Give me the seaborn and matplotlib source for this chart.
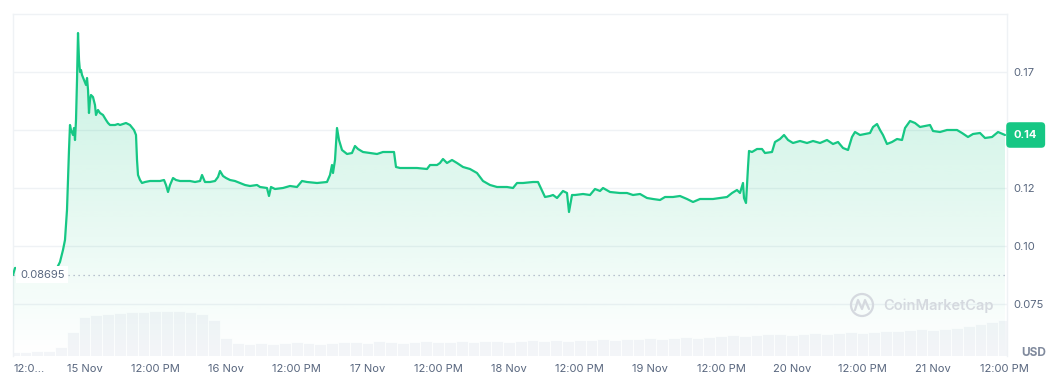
import numpy as np
import pandas as pd
import matplotlib
matplotlib.use("Agg")
import matplotlib.pyplot as plt
import matplotlib.transforms as mtransforms
from matplotlib.patches import Ellipse
from matplotlib.lines import Line2D
import seaborn as sns

# ---------------- data ----------------
# hours since 14 Nov 00:00
hours = [11.87, 12.21, 19.33, 19.84, 20.35, 20.69, 21.03, 21.20, 21.37, 21.54,
         21.71, 22.05, 22.22, 22.39, 22.56, 22.73, 22.90, 23.07, 23.24, 23.41,
         23.58, 23.92, 24.26, 24.43, 24.60, 24.76, 24.93, 25.10, 25.44, 25.78,
         25.95, 26.29, 26.63, 27.14, 27.65, 27.99, 28.33, 29.18, 29.68, 30.02,
         30.53, 31.04, 31.72, 32.40, 32.74, 32.91, 33.08, 33.42, 33.76, 34.27,
         35.11, 36.81, 37.49, 37.83, 38.17, 38.51, 39.02, 39.52, 40.20, 41.90,
         42.75, 43.60, 43.94, 44.44, 45.29, 46.14, 46.65, 46.99, 47.50, 48.01,
         48.69, 49.53, 50.38, 51.23, 52.08, 53.27, 53.78, 54.96, 55.30, 55.64,
         56.32, 57.68, 58.86, 60.05, 60.90, 61.75, 63.45, 65.14, 65.65, 65.99,
         66.16, 66.50, 66.84, 67.18, 67.69, 68.54, 69.38, 69.89, 70.40, 71.25,
         72.44, 73.63, 74.64, 75.83, 76.51, 76.85, 77.53, 79.22, 80.41, 82.11,
         82.62, 83.81, 84.31, 84.82, 85.50, 86.35, 87.20, 88.22, 89.40, 90.59,
         91.61, 92.80, 93.99, 95.68, 96.70, 97.38, 98.40, 100.09, 100.94, 102.13,
         102.98, 103.49, 104.17, 105.18, 105.86, 106.20, 106.71, 107.22, 108.58, 109.76,
         110.61, 111.46, 111.97, 113.16, 114.85, 116.04, 117.06, 118.25, 119.43, 120.45,
         121.64, 122.49, 123.84, 125.03, 126.22, 127.24, 128.42, 130.63, 131.82, 133.01,
         133.86, 134.70, 135.21, 135.72, 135.89, 136.23, 136.57, 136.74, 137.25, 138.10,
         138.94, 139.45, 140.64, 141.15, 142.00, 142.68, 143.36, 144.20, 145.39, 146.58,
         147.60, 148.79, 149.97, 150.99, 151.84, 152.69, 153.54, 154.21, 154.72, 155.57,
         157.27, 157.78, 158.46, 158.97, 159.47, 160.15, 161.00, 161.85, 162.70, 163.21,
         164.06, 164.90, 165.75, 167.45, 167.96, 169.14, 170.33, 172.03, 172.88, 173.89,
         174.74, 175.93, 176.78, 177.97, 178.99, 180.17]
prices = [0.0868, 0.0896, 0.0896, 0.0920, 0.0968, 0.1008, 0.1128, 0.1248, 0.1368, 0.1468,
          0.1448, 0.1428, 0.1456, 0.1408, 0.1488, 0.1648, 0.1836, 0.1728, 0.1680, 0.1688,
          0.1668, 0.1648, 0.1628, 0.1656, 0.1608, 0.1516, 0.1568, 0.1588, 0.1580, 0.1548,
          0.1508, 0.1528, 0.1516, 0.1508, 0.1488, 0.1476, 0.1468, 0.1468, 0.1472, 0.1468,
          0.1472, 0.1476, 0.1468, 0.1448, 0.1428, 0.1328, 0.1268, 0.1248, 0.1236, 0.1240,
          0.1244, 0.1244, 0.1248, 0.1228, 0.1200, 0.1228, 0.1256, 0.1248, 0.1244, 0.1244,
          0.1240, 0.1244, 0.1268, 0.1240, 0.1240, 0.1244, 0.1260, 0.1284, 0.1264, 0.1256,
          0.1248, 0.1244, 0.1236, 0.1228, 0.1224, 0.1228, 0.1220, 0.1216, 0.1184, 0.1220,
          0.1212, 0.1216, 0.1224, 0.1220, 0.1244, 0.1240, 0.1236, 0.1240, 0.1268, 0.1308,
          0.1276, 0.1328, 0.1456, 0.1408, 0.1368, 0.1352, 0.1356, 0.1384, 0.1372, 0.1360,
          0.1356, 0.1352, 0.1360, 0.1360, 0.1360, 0.1300, 0.1296, 0.1296, 0.1296, 0.1292,
          0.1308, 0.1308, 0.1316, 0.1332, 0.1316, 0.1328, 0.1316, 0.1300, 0.1292, 0.1276,
          0.1244, 0.1228, 0.1220, 0.1220, 0.1216, 0.1236, 0.1236, 0.1240, 0.1240, 0.1180,
          0.1184, 0.1188, 0.1176, 0.1204, 0.1196, 0.1120, 0.1188, 0.1188, 0.1192, 0.1188,
          0.1212, 0.1204, 0.1216, 0.1200, 0.1196, 0.1196, 0.1188, 0.1192, 0.1176, 0.1172,
          0.1168, 0.1180, 0.1180, 0.1184, 0.1172, 0.1160, 0.1172, 0.1172, 0.1176, 0.1180,
          0.1196, 0.1208, 0.1196, 0.1236, 0.1176, 0.1156, 0.1300, 0.1364, 0.1360, 0.1372,
          0.1372, 0.1356, 0.1360, 0.1400, 0.1412, 0.1428, 0.1408, 0.1396, 0.1404, 0.1396,
          0.1404, 0.1396, 0.1408, 0.1392, 0.1400, 0.1376, 0.1368, 0.1420, 0.1440, 0.1428,
          0.1436, 0.1460, 0.1472, 0.1448, 0.1428, 0.1392, 0.1400, 0.1412, 0.1408, 0.1456,
          0.1484, 0.1476, 0.1460, 0.1468, 0.1444, 0.1440, 0.1448, 0.1448, 0.1436, 0.1420,
          0.1432, 0.1436, 0.1416, 0.1420, 0.1440, 0.1428]

# volume, 2-hour bins (hours since 14 Nov 00:00), arbitrary units
vol_hours = list(range(12, 181, 2))
volumes = [4, 4, 5, 5,
           9, 24, 39, 41, 42, 43, 44, 44, 45, 45, 45, 44, 42, 36, 18, 13,
           12, 13, 12, 13, 14, 13, 12, 13, 14, 14, 13, 15, 14, 13, 14, 15, 14, 14, 15, 14,
           15, 15, 14, 15, 16,
           15, 16, 15, 16, 16, 17, 16, 17, 17, 18, 17, 18, 19, 18, 19, 20, 21, 20, 21, 22,
           22, 21, 22, 23, 22, 23, 24, 23, 24, 25, 25, 26, 27, 26, 27, 28, 30, 32, 34, 36]

y_ticks = [0.0752, 0.0984, 0.1216, 0.1448, 0.1680]
y_tick_labels = ["0.075", "0.10", "0.12", "0.14", "0.17"]
x_tick_hours = [12, 24, 36, 48, 60, 72, 84, 96, 108, 120, 132, 144, 156, 168, 180]
x_tick_labels = ["12:0...", "15 Nov", "12:00 PM", "16 Nov", "12:00 PM", "17 Nov",
                 "12:00 PM", "18 Nov", "12:00 PM", "19 Nov", "12:00 PM", "20 Nov",
                 "12:00 PM", "21 Nov", "12:00 PM"]
open_price = 0.08695
open_label = "0.08695"
last_price = 0.1428
last_label = "0.14"

# ---------------- style ----------------
sns.set_style("white")
plt.rcParams["font.family"] = ["Inter", "DejaVu Sans"]

GREEN = "#16c784"
LABEL = "#58667e"
GRID = "#eff2f5"

base = pd.Timestamp("2023-11-14")
def to_time(h):
    return base + pd.to_timedelta(np.asarray(h, dtype=float), unit="h")

times = to_time(hours)
vtimes = to_time(vol_hours)
tick_times = to_time(x_tick_hours)
x_min, x_max = to_time([11.87, 180.51])

W, H = 1064, 390
fig = plt.figure(figsize=(W / 100, H / 100), dpi=100)
rect = [13 / W, (H - 356) / H, (1007 - 13) / W, 342 / H]
ax_vol = fig.add_axes(rect)
ax = ax_vol.twinx()

# volume
ax_vol.bar(vtimes, volumes, width=2 / 24, color="#f3f5f8", edgecolor="white",
           linewidth=0.6, zorder=1)
ax_vol.set_ylim(0, 342)
ax_vol.set_yticks([])
for s in ["top", "left", "right"]:
    ax_vol.spines[s].set_color(GRID)
    ax_vol.spines[s].set_linewidth(1)
ax_vol.spines["bottom"].set_visible(False)

# price
y_lo, y_hi = 0.0544, 0.1912
sns.lineplot(x=times, y=prices, ax=ax, color=GREEN, linewidth=1.6, zorder=4)
poly = ax.fill_between(times, prices, y_lo, color="none", linewidth=0)
grad = np.zeros((256, 1, 4))
grad[..., 0] = 22 / 255
grad[..., 1] = 199 / 255
grad[..., 2] = 132 / 255
grad[:, 0, 3] = np.linspace(0.26, 0.0, 256)
im = ax.imshow(grad, extent=[0, 1, 0, 1], transform=ax.transAxes, aspect="auto",
               zorder=2, interpolation="bilinear")
im.set_clip_path(poly.get_paths()[0], transform=ax.transData)

ax.axhline(open_price, color="#a6b0c3", linestyle=(0, (1, 3)), linewidth=0.9, zorder=3)
blend = mtransforms.blended_transform_factory(ax.transAxes, ax.transData)
ax.text(7 / 994, open_price, open_label, transform=blend, ha="left", va="center",
        fontsize=8, color=LABEL, zorder=6,
        bbox=dict(boxstyle="square,pad=0.32", fc="white", ec="none"))

ax.set_ylim(y_lo, y_hi)
# the "0.14" tick label sits under the current-price tag, as in the reference
shown_labels = ["" if lab == last_label else lab for lab in y_tick_labels]
ax.set_yticks(y_ticks, shown_labels)
ax.yaxis.grid(True, color=GRID, linewidth=1)
ax.set_axisbelow(True)
ax.tick_params(axis="y", length=0, pad=4.5, labelsize=8, labelcolor=LABEL)
for s in ax.spines.values():
    s.set_visible(False)
ax.set_xlabel("")
ax.set_ylabel("")

ax_vol.set_xlim(x_min, x_max)
ax_vol.set_xticks(tick_times, x_tick_labels)
ax_vol.tick_params(axis="x", length=0, pad=6, labelsize=8, labelcolor=LABEL)
ax_vol.get_xticklabels()[0].set_ha("left")
ax.set_xlim(x_min, x_max)

# price tag
ax.text(1 + 7 / 994, last_price, last_label, transform=blend, ha="left", va="center",
        fontsize=8, fontweight="bold", color="white", zorder=7, clip_on=False,
        bbox=dict(boxstyle="round,pad=0.7,rounding_size=0.35", fc=GREEN, ec="none"))

fig.text(1034 / W, 1 - 353 / H, "USD", ha="center", va="center", fontsize=8.5,
         fontweight="bold", color="#808a9d")

# watermark
wm = "#d5d9df"
fig.text(938 / W, 1 - 306 / H, "CoinMarketCap", ha="center", va="center",
         fontsize=10.5, fontweight="semibold", color=wm)
fig.add_artist(Ellipse((862 / W, 1 - 305 / H), 22 / W, 22 / H, transform=fig.transFigure,
                       fill=False, ec=wm, lw=1.6))
fig.add_artist(Line2D([855 / W, 858 / W, 862 / W, 865 / W, 869 / W],
                      [1 - 310 / H, 1 - 300 / H, 1 - 309 / H, 1 - 300 / H, 1 - 309 / H],
                      transform=fig.transFigure, color=wm, lw=1.6))

fig.savefig("out.png", dpi=100)
